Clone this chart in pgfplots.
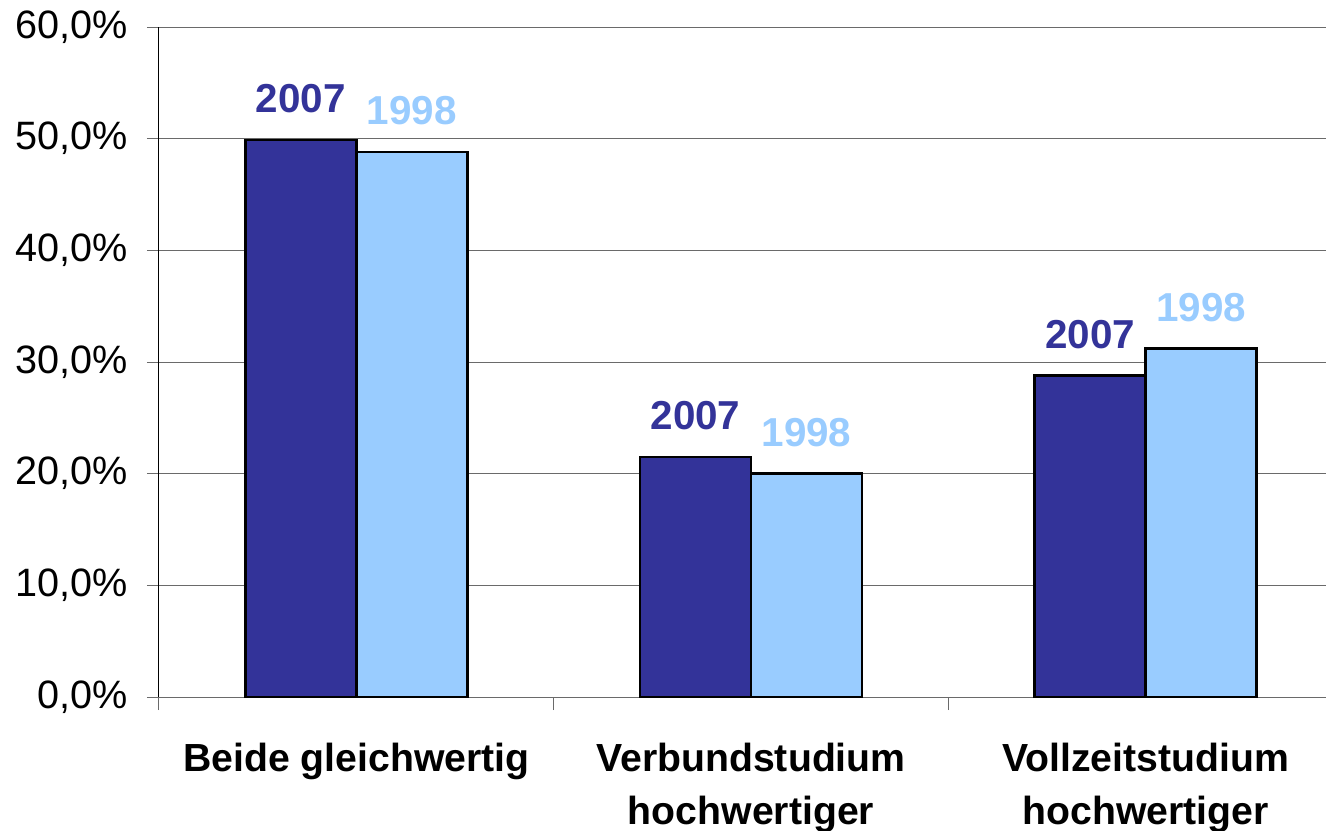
\documentclass[border=0pt]{standalone}
\usepackage{pgfplots}
\pgfplotsset{compat=1.18}
\usepackage{fontspec}
\setmainfont{Liberation Sans}
\definecolor{darkbar}{HTML}{333399}
\definecolor{lightbar}{HTML}{99CCFF}
\definecolor{gridgray}{HTML}{6A6A6A}

\begin{document}
\begin{tikzpicture}
\begin{axis}[
    scale only axis,
    width=583.5pt,
    height=335pt,
    xmin=-0.5, xmax=2.457,
    ymin=0, ymax=60,
    axis x line*=bottom,
    axis y line*=left,
    x axis line style={gridgray, line width=0.5pt},
    y axis line style={black, line width=0.5pt},
    ybar=0pt,
    bar width=55.5pt,
    ymajorgrids,
    grid style={gridgray, line width=0.5pt},
    tick align=outside,
    ytick={0,10,...,60},
    ytick style={gridgray, line width=0.5pt},
    major tick length=6pt,
    yticklabel={\pgfmathprintnumber[fixed,fixed zerofill,precision=1,use comma]{\tick}\%},
    /pgf/number format/assume math mode=true,
    yticklabel style={font=\fontsize{19.8}{23}\selectfont, inner sep=0pt, xshift=-9.5pt},
    xtick={0,1,2},
    xticklabels={Beide gleichwertig, Verbundstudium\\hochwertiger, Vollzeitstudium\\hochwertiger},
    xtick style={draw=none},
    xticklabel style={font=\fontsize{19.6}{26.5}\bfseries, align=center, inner sep=0pt, yshift=-17pt},
    extra x ticks={-0.5,0.5,1.5},
    extra x tick labels={},
    extra x tick style={xtick style={draw=gridgray, line width=0.5pt}, major tick length=6.5pt},
]
\addplot[fill=darkbar, draw=black, line width=1.2pt,
    nodes near coords={2007},
    every node near coord/.append style={font=\fontsize{20.2}{23}\bfseries, text=darkbar, anchor=base, inner sep=0pt, yshift=13.7pt}]
    coordinates {(0,49.9) (1,21.5) (2,28.8)};
\addplot[fill=lightbar, draw=black, line width=1.2pt,
    nodes near coords={1998},
    every node near coord/.append style={font=\fontsize{20.2}{23}\bfseries, text=lightbar, anchor=base, inner sep=0pt, yshift=13.7pt}]
    coordinates {(0,48.8) (1,20.0) (2,31.2)};
\end{axis}
\pgfresetboundingbox
\path[use as bounding box] (-79.5pt,-66.5pt) rectangle (583.5pt,348.5pt);
\end{tikzpicture}
\end{document}
